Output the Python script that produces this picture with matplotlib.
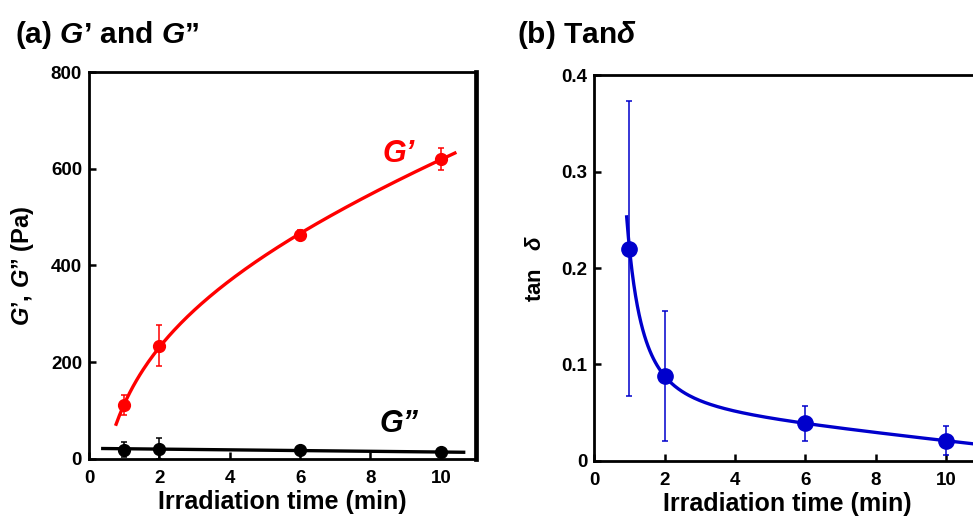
import numpy as np
import matplotlib
matplotlib.use("Agg")
import matplotlib.pyplot as plt

plt.rcParams['font.family'] = ['Liberation Sans', 'DejaVu Sans']
plt.rcParams['font.weight'] = 'bold'
plt.rcParams['axes.labelweight'] = 'bold'
plt.rcParams['mathtext.fontset'] = 'custom'
plt.rcParams['mathtext.rm'] = 'Liberation Sans:bold'
plt.rcParams['mathtext.it'] = 'Liberation Sans:italic:bold'
plt.rcParams['mathtext.bf'] = 'Liberation Sans:bold'

# irradiation times (min)
time_min = [1, 2, 6, 10]

# storage / loss modulus (Pa) with error
g_storage = [111, 234, 463, 620]
g_storage_err = [20, 43, 11, 23]
g_loss = [19, 21, 18, 13]
g_loss_err = [15, 21, 3, 3]

# loss tangent
tan_delta = [0.220, 0.088, 0.039, 0.021]
tan_delta_err = [0.153, 0.067, 0.018, 0.015]

x_ticks = [0, 2, 4, 6, 8, 10]
ga_ticks = [0, 200, 400, 600, 800]
tb_ticks = [0, 0.1, 0.2, 0.3, 0.4]
tb_labels = ['0', '0.1', '0.2', '0.3', '0.4']

RED = '#ff0000'
BLUE = '#0000cc'

t = np.asarray(time_min, float)


def lsq(basis, y):
    A = np.column_stack(basis)
    y = np.asarray(y, float)
    coef, *_ = np.linalg.lstsq(A, y, rcond=None)
    return coef, float(np.sum((A @ coef - y) ** 2))


def style_axes(ax):
    for side in ['left', 'bottom', 'top']:
        ax.spines[side].set_linewidth(2.0)
    ax.spines['right'].set_linewidth(3.4)
    ax.tick_params(direction='in', length=5, width=1.8, labelsize=13.5,
                   top=False, right=False)
    ax.tick_params(axis='x', pad=8)
    ax.tick_params(axis='y', pad=5)
    ax.set_xlim(0, 11)
    ax.set_xticks(x_ticks)
    ax.set_xlabel('Irradiation time (min)', fontsize=18, labelpad=2)


fig = plt.figure(figsize=(9.73, 5.21), dpi=100)
ax_a = fig.add_axes([0.0915, 0.1196, 0.3977, 0.7422])
ax_b = fig.add_axes([0.6108, 0.1152, 0.3977, 0.7408])

# (a) moduli with fitted trend lines
ca, _ = lsq([np.ones_like(t), np.log(t), t], g_storage)
xs = np.linspace(0.77, 10.4, 200)
ax_a.plot(xs, ca[0] + ca[1] * np.log(xs) + ca[2] * xs, color=RED, lw=2.4, zorder=2)
ax_a.errorbar(time_min, g_storage, yerr=g_storage_err, fmt='o', ms=8.5,
              color=RED, ecolor=RED, elinewidth=1.1, capsize=2.5, capthick=1.1, zorder=3)

cl = np.polyfit(t, g_loss, 1)
xl = np.linspace(0.39, 10.65, 50)
ax_a.plot(xl, np.polyval(cl, xl), color='black', lw=2.4, zorder=2)
ax_a.errorbar(time_min, g_loss, yerr=g_loss_err, fmt='o', ms=8.5,
              color='black', ecolor='black', elinewidth=1.1, capsize=2.5, capthick=1.1, zorder=3)

ax_a.text(8.8, 630, 'G’', color=RED, fontsize=22, fontstyle='italic',
          ha='center', va='center')
ax_a.text(8.8, 72, 'G”', color='black', fontsize=22, fontstyle='italic',
          ha='center', va='center')

style_axes(ax_a)
ax_a.set_ylim(0, 800)
ax_a.set_yticks(ga_ticks)
ax_a.set_ylabel('$G$’, $G$” (Pa)', fontsize=17)
ax_a.yaxis.set_label_coords(-0.136, 0.5)

# (b) loss tangent: a + b*x^-p + c*x, exponent picked by scan
best = None
for p in np.linspace(0.5, 3.5, 601):
    coef, err = lsq([np.ones_like(t), t ** -p, t], tan_delta)
    if best is None or err < best[2]:
        best = (p, coef, err)
pb, cb, _ = best
xb = np.linspace(0.92, 11, 200)
ax_b.plot(xb, cb[0] + cb[1] * xb ** -pb + cb[2] * xb, color=BLUE, lw=2.4, zorder=2)
ax_b.errorbar(time_min, tan_delta, yerr=tan_delta_err, fmt='o', ms=11,
              color=BLUE, ecolor=BLUE, elinewidth=1.1, capsize=2.5, capthick=1.1, zorder=3)

style_axes(ax_b)
ax_b.set_ylim(0, 0.4)
ax_b.set_yticks(tb_ticks)
ax_b.set_yticklabels(tb_labels)
ax_b.set_ylabel(r'tan   $\delta$', fontsize=16)
ax_b.yaxis.set_label_coords(-0.125, 0.5)

fig.text(0.015, 0.902, '(a) $G$’ and $G$”', fontsize=21.5, ha='left', va='bottom')
fig.text(0.531, 0.902, r'(b) Tan$\delta$', fontsize=21.5, ha='left', va='bottom')

fig.savefig('out.png', dpi=100)
